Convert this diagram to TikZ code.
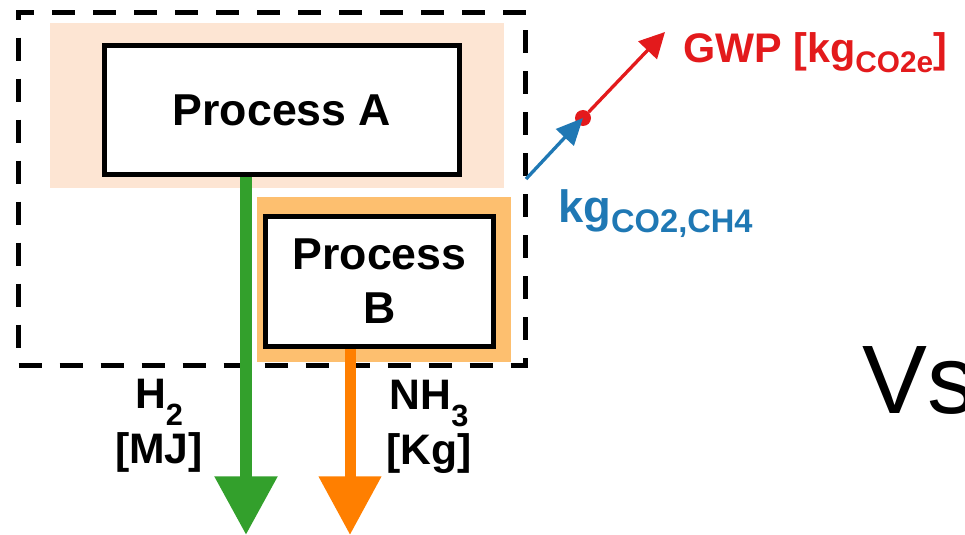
\documentclass[tikz,border=0pt]{standalone}
\usepackage{graphicx}
\usepackage{fontspec}
\setmainfont{Liberation Sans}
\usetikzlibrary{arrows.meta}
\definecolor{peachbg}{RGB}{253,229,211}
\definecolor{orangebg}{RGB}{253,191,111}
\definecolor{htwogreen}{RGB}{51,160,44}
\definecolor{nhthreeorange}{RGB}{255,127,0}
\definecolor{co2blue}{RGB}{31,120,180}
\definecolor{gwpred}{RGB}{227,26,28}
\newcommand{\lowsub}[2][0.22em]{\raisebox{-#1}{\scalebox{0.72}{#2}}}
\begin{document}
\begin{tikzpicture}[x=0.75pt,y=-0.75pt,
		procbox/.style={draw,line width=3.75pt,fill=white,inner sep=0pt,align=center,
			font=\fontsize{33.5}{40.5}\selectfont\bfseries},
		flowlab/.style={align=center,inner sep=0pt,font=\fontsize{32}{41}\selectfont\bfseries},
		bigflow/.style={line width=#1,-{Triangle[width=45pt,length=44pt]}},
		gasflow/.style={line width=2.5pt,-{Triangle[width=18pt,length=20pt]}}]
		\useasboundingbox (0,0) rectangle (965,535);
		
		% shaded backgrounds
		\fill[peachbg] (50,23) rectangle (504,188);
		\fill[orangebg] (257,197) rectangle (511,362);
		
		\node[draw,line width=3.75pt,dash pattern=on 17.25pt off 13.5pt,inner sep=0pt,
			minimum width=380.6pt,minimum height=265.1pt] (system) at (272.25,188.75) {};
		\node[procbox,minimum width=266pt,minimum height=96.75pt] (procA) at (282,110) {Process A};
		\node[procbox,minimum width=171pt,minimum height=97.5pt] (procB) at (379.5,281.5) {Process\\B};
		
		% products
		\coordinate (h2end) at (246,535);
		\coordinate (nh3end) at (350,535);
		\draw[bigflow=9pt,htwogreen] (procA.south -| h2end) -- (h2end);
		\draw[bigflow=8.25pt,nhthreeorange] (procB.south -| nh3end) -- (nh3end);
		\node[flowlab] (h2lab) at (159,426) {H\lowsub[0.4em]{2}\\{[MJ]}};
		\node[flowlab] (nh3lab) at (429,427) {NH\lowsub[0.4em]{3}\\{[Kg]}};
		
		% emissions
		\coordinate (co2out) at (526,179);
		\coordinate (gwptip) at (665,32);
		\node[circle,fill=gwpred,minimum size=12pt,inner sep=0pt] (mix) at (583,118) {};
		\draw[gasflow,gwpred,-{Triangle[width=19pt,length=19pt]}] (mix) -- (gwptip);
		\draw[gasflow,co2blue] (co2out) -- (mix.center);
		\node[anchor=base west,inner sep=0pt,text=gwpred,font=\fontsize{31}{37}\selectfont\bfseries]
			(gwp) at (683,63) {GWP [kg\lowsub{CO2e}]};
		\node[anchor=base west,inner sep=0pt,text=co2blue,font=\fontsize{34}{40}\selectfont\bfseries]
			(co2lab) at (558,222) {kg\lowsub[0.24em]{CO2,CH4}};
		
		\node[anchor=base west,inner sep=0pt,font=\fontsize{73}{80}\selectfont] (vs) at (862,413) {Vs};
	\end{tikzpicture}
\end{document}
